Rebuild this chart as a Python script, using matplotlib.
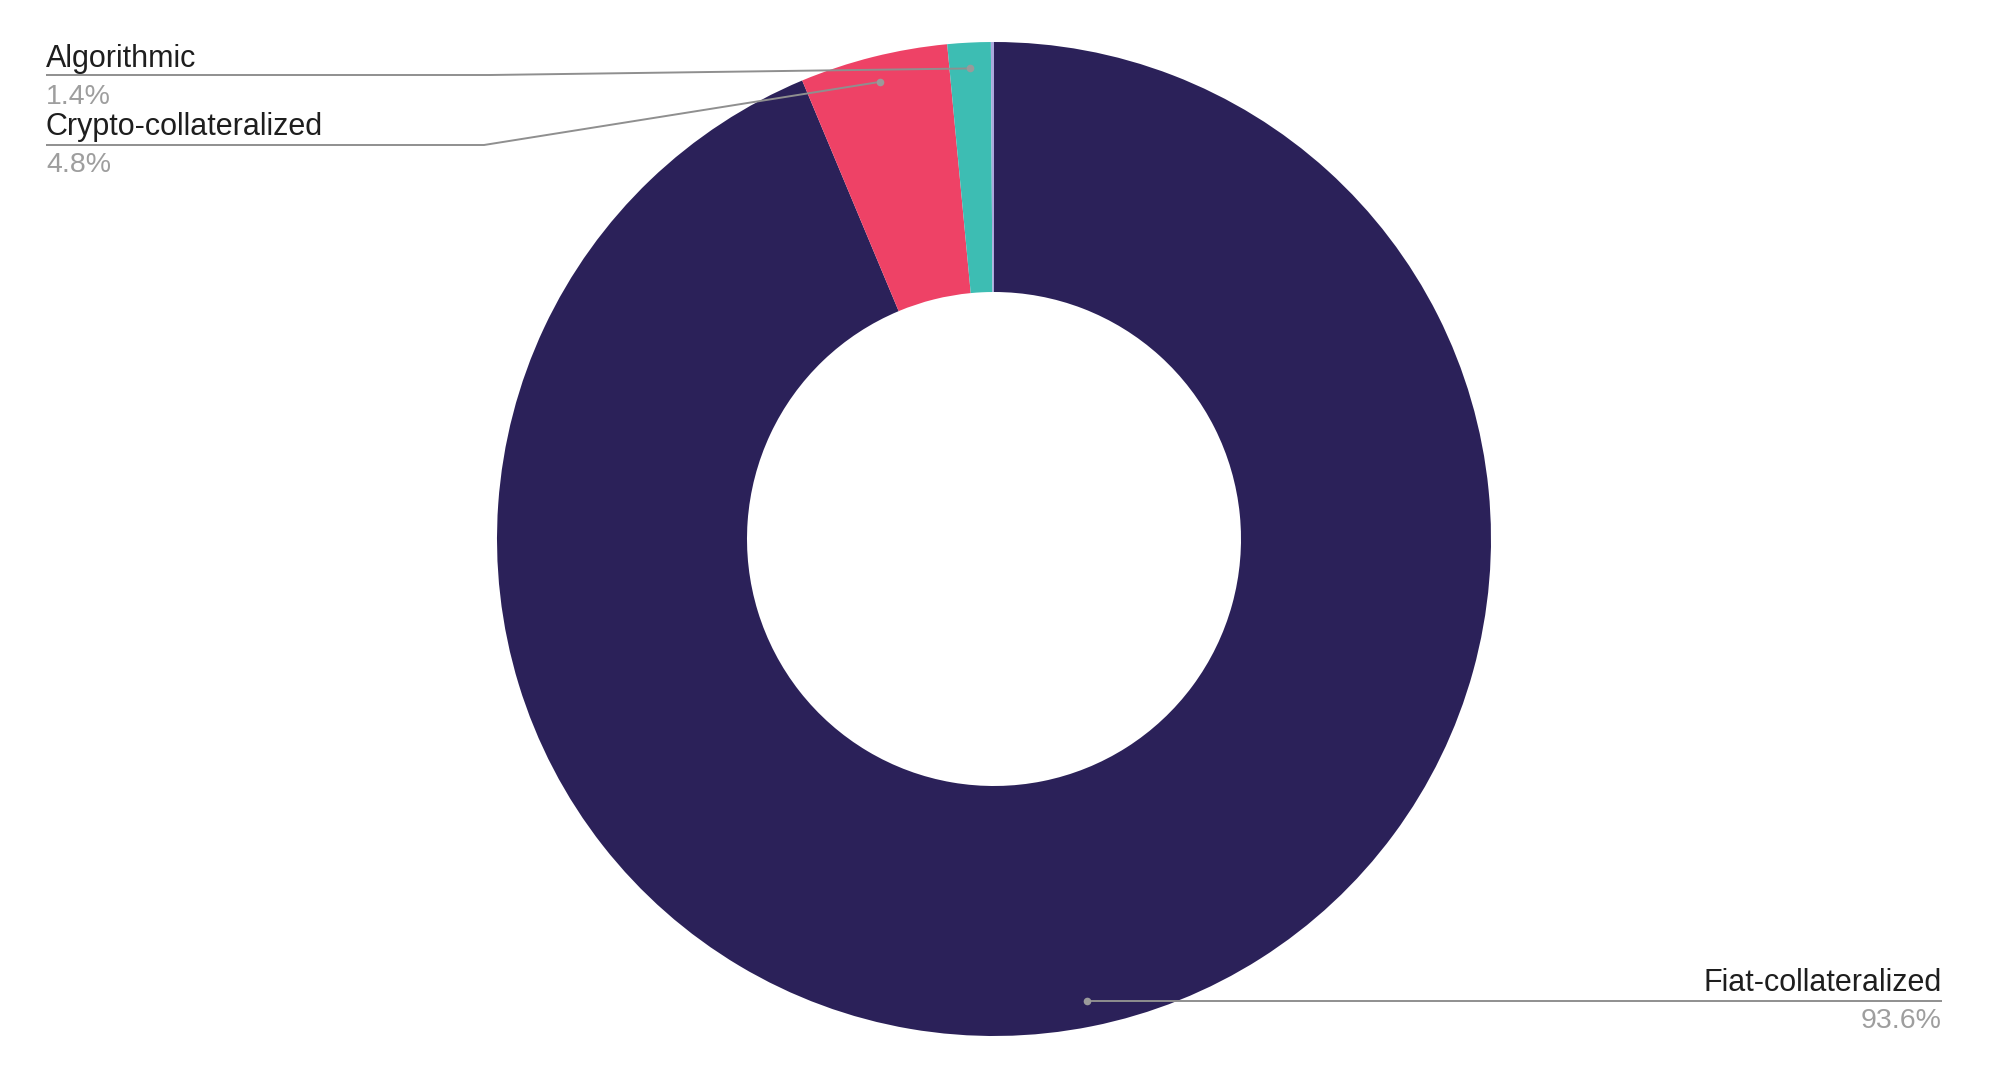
import numpy as np
import matplotlib
matplotlib.use("Agg")
import matplotlib.pyplot as plt

# data (clockwise from 12 o'clock)
labels = ["Fiat-collateralized", "Crypto-collateralized", "Algorithmic", "Other"]
values = [93.6, 4.8, 1.4, 0.1]
value_text = ["93.6%", "4.8%", "1.4%", ""]
colors = ["#2b2159", "#ee4266", "#3dbdb3", "#aaa8dc"]

# canvas in pixels
W, H = 1999, 1078
cx, cy = 994, H - 539   # donut centre
R = 497                 # outer radius
ring = 250              # ring width

plt.rcParams["font.family"] = ["Liberation Sans", "DejaVu Sans"]

fig = plt.figure(figsize=(W / 100, H / 100), dpi=100)
ax = fig.add_axes([0, 0, 1, 1])

wedges, _ = ax.pie(values, colors=colors, startangle=90, counterclock=False,
                   radius=R, center=(cx, cy),
                   wedgeprops=dict(width=ring, linewidth=0))
ax.set_xlim(0, W)
ax.set_ylim(0, H)
ax.set_aspect("equal")
ax.axis("off")

line_col = "#8f8f8f"
lab_col = "#1e1e1e"
val_col = "#9e9e9e"


def anchor(w, frac=0.948):
    a = np.deg2rad((w.theta1 + w.theta2) / 2)
    return cx + frac * R * np.cos(a), cy + frac * R * np.sin(a)


# left side callouts: (wedge index, text x, label baseline, underline y, elbow x)
left = [(2, 46, 67, 75, 490), (1, 46, 135, 145, 484)]
for i, tx, base, uy, ex in left:
    px, py = anchor(wedges[i])
    ax.plot([tx, ex, px], [H - uy, H - uy, py], color=line_col, lw=1.4,
            solid_capstyle="butt")
    ax.plot(px, py, "o", ms=5.5, color="#9a9a9a", mec="none")
    ax.text(tx, H - base, labels[i], fontsize=22, color=lab_col,
            ha="left", va="baseline")
    ax.text(tx, H - base - 37, value_text[i], fontsize=20.5, color=val_col,
            ha="left", va="baseline")

# right side callout for the big slice
px, py = anchor(wedges[0])
rx = 1942
ax.plot([px, rx], [py, py], color=line_col, lw=1.4, solid_capstyle="butt")
ax.plot(px, py, "o", ms=5.5, color="#9a9a9a", mec="none")
ax.text(rx, py + 10, labels[0], fontsize=22, color=lab_col,
        ha="right", va="baseline")
ax.text(rx, py - 27, value_text[0], fontsize=20.5, color=val_col,
        ha="right", va="baseline")

fig.savefig("out.png", dpi=100, facecolor="white")
